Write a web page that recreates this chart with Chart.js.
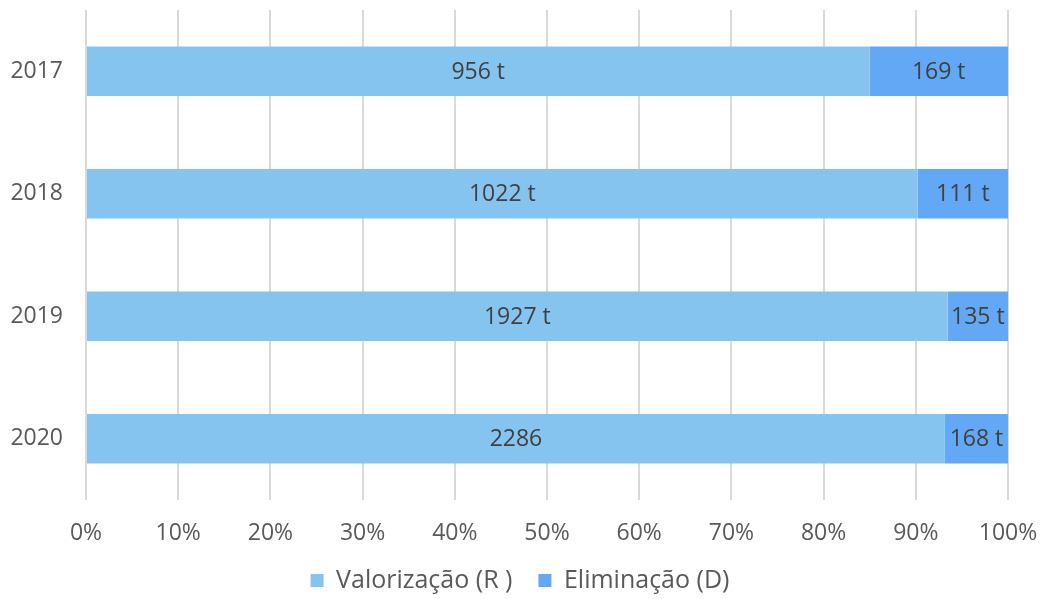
<!DOCTYPE html>
<html>
<head>
<meta charset="utf-8">
<script src="https://cdn.jsdelivr.net/npm/chart.js@4/dist/chart.umd.min.js"></script>
<style>
  html, body { margin: 0; padding: 0; background: #fff; }
  #wrap { width: 1040px; height: 599px; }
</style>
</head>
<body>
<div id="wrap"><canvas id="chart"></canvas></div>
<script>
const years = ['2017', '2018', '2019', '2020'];
const valorizacao = [956, 1022, 1927, 2286];
const eliminacao = [169, 111, 135, 168];
const valorizacaoLabels = ['956 t', '1022 t', '1927 t', '2286'];
const eliminacaoLabels = ['169 t', '111 t', '135 t', '168 t'];
const xTicks = ['0%', '10%', '20%', '30%', '40%', '50%', '60%', '70%', '80%', '90%', '100%'];

const totals = years.map((y, i) => valorizacao[i] + eliminacao[i]);
const pct = arr => arr.map((v, i) => v / totals[i] * 100);

const textColor = '#595959';
const fontFamily = '"Open Sans", sans-serif';

// draws the value text in the middle of each bar segment
const barLabels = {
  id: 'barLabels',
  afterDatasetsDraw(chart) {
    const ctx = chart.ctx;
    ctx.save();
    ctx.font = '23px ' + fontFamily;
    ctx.fillStyle = '#404040';
    ctx.textAlign = 'center';
    ctx.textBaseline = 'middle';
    chart.data.datasets.forEach((ds, di) => {
      chart.getDatasetMeta(di).data.forEach((bar, i) => {
        const p = bar.getProps(['x', 'y', 'base'], true);
        ctx.fillText(ds.labelsText[i], (p.x + p.base) / 2, p.y + 1);
      });
    });
    ctx.restore();
  }
};

new Chart(document.getElementById('chart'), {
  type: 'bar',
  data: {
    labels: years,
    datasets: [
      {
        label: 'Valorização (R )',
        data: pct(valorizacao),
        labelsText: valorizacaoLabels,
        backgroundColor: '#85C4EF',
        barPercentage: 0.405,
        categoryPercentage: 1
      },
      {
        label: 'Eliminação (D)',
        data: pct(eliminacao),
        labelsText: eliminacaoLabels,
        backgroundColor: '#62A8F5',
        barPercentage: 0.405,
        categoryPercentage: 1
      }
    ]
  },
  options: {
    indexAxis: 'y',
    responsive: true,
    maintainAspectRatio: false,
    animation: false,
    layout: { padding: { top: 10, right: 0, left: 0, bottom: -4 } },
    scales: {
      x: {
        stacked: true,
        min: 0,
        max: 100,
        grid: { color: '#D9D9D9', lineWidth: 2, drawTicks: false },
        border: { display: false },
        afterFit: s => { s.paddingRight = 32; s.paddingLeft = 0; s.height = 42; },
        ticks: {
          stepSize: 10,
          padding: 22,
          color: textColor,
          font: { family: fontFamily, size: 23, lineHeight: 1 },
          callback: (v, i) => xTicks[i]
        }
      },
      y: {
        stacked: true,
        grid: { display: false },
        border: { display: false },
        afterFit: s => { s.width = 86; s.paddingTop = 0; s.paddingBottom = 0; },
        ticks: {
          padding: 15,
          color: textColor,
          font: { family: fontFamily, size: 23 }
        }
      }
    },
    plugins: {
      legend: {
        position: 'bottom',
        labels: {
          color: textColor,
          font: { family: fontFamily, size: 25, lineHeight: 1 },
          boxWidth: 13,
          boxHeight: 13,
          padding: 26
        }
      },
      tooltip: { enabled: false }
    }
  },
  plugins: [barLabels]
});
</script>
</body>
</html>
